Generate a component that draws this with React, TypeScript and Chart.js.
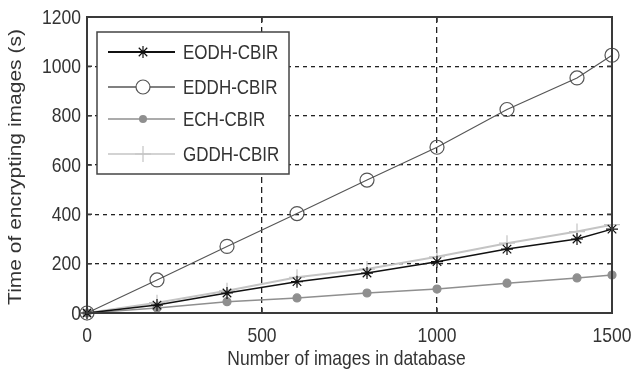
import React, { useEffect, useRef } from 'react';
import { Chart, registerables } from 'chart.js';

Chart.register(...registerables);

const xValues = [0, 200, 400, 600, 800, 1000, 1200, 1400, 1500];
const eodhValues = [0, 32, 81, 127, 162, 208, 259, 300, 340];
const eddhValues = [0, 134, 270, 403, 539, 672, 825, 953, 1045];
const echValues = [0, 20, 46, 61, 81, 97, 121, 142, 154];
const gddhValues = [0, 42, 90, 145, 178, 228, 283, 330, 358];
const seriesNames = ['EODH-CBIR', 'EDDH-CBIR', 'ECH-CBIR', 'GDDH-CBIR'];
const xTickValues = [0, 500, 1000, 1500];
const yTickValues = [0, 200, 400, 600, 800, 1000, 1200];
const xTitle = 'Number of images in database';
const yTitle = 'Time of encrypting images (s)';

const FONT = '"Liberation Sans", Arial, sans-serif';
const TEXT_COLOR = '#333333';
const STRETCH = 1.2;

const seriesStyles = [
  { color: '#111111', width: 1.5, pointStyle: 'star', radius: 6, fill: false, legendColor: '#111111', legendWidth: 2 },
  { color: '#555555', width: 1.1, pointStyle: 'circle', radius: 7, fill: false, legendColor: '#808080', legendWidth: 2 },
  { color: '#8f8f8f', width: 1.5, pointStyle: 'circle', radius: 4, fill: true, legendColor: '#8f8f8f', legendWidth: 1.5 },
  { color: '#c4c4c4', width: 2, pointStyle: 'cross', radius: 8, fill: false, legendColor: '#c4c4c4', legendWidth: 1.5 },
];

function drawText(ctx: CanvasRenderingContext2D, text: string, x: number, y: number, align: CanvasTextAlign, size: number) {
  ctx.save();
  ctx.translate(x, y);
  ctx.scale(1, STRETCH);
  ctx.font = `${size}px ${FONT}`;
  ctx.textAlign = align;
  ctx.textBaseline = 'middle';
  ctx.fillStyle = TEXT_COLOR;
  ctx.fillText(text, 0, 0);
  ctx.restore();
}

function drawMarker(ctx: CanvasRenderingContext2D, idx: number, x: number, y: number) {
  const s = seriesStyles[idx];
  ctx.save();
  ctx.strokeStyle = s.color;
  ctx.fillStyle = s.color;
  ctx.lineWidth = 1.2;
  ctx.beginPath();
  if (s.pointStyle === 'circle') {
    ctx.arc(x, y, s.radius, 0, Math.PI * 2);
    if (s.fill) ctx.fill();
    else { ctx.fillStyle = '#fff'; ctx.fill(); ctx.stroke(); }
  } else if (s.pointStyle === 'star') {
    const r = s.radius;
    ctx.moveTo(x, y - r); ctx.lineTo(x, y + r);
    ctx.moveTo(x - r, y); ctx.lineTo(x + r, y);
    const d = r * 0.7071;
    ctx.moveTo(x - d, y - d); ctx.lineTo(x + d, y + d);
    ctx.moveTo(x - d, y + d); ctx.lineTo(x + d, y - d);
    ctx.stroke();
  } else {
    const r = s.radius;
    ctx.moveTo(x, y - r); ctx.lineTo(x, y + r);
    ctx.moveTo(x - r, y); ctx.lineTo(x + r, y);
    ctx.stroke();
  }
  ctx.restore();
}

const decorPlugin = {
  id: 'matlabDecor',
  afterDraw(chart: any) {
    const { ctx, chartArea: a, scales } = chart;
    const xs = scales.x;
    const ys = scales.y;
    ctx.save();

    // legend box
    const lx = 97, ly = 32, lw = 192, lh = 142;
    ctx.fillStyle = '#ffffff';
    ctx.fillRect(lx, ly, lw, lh);
    ctx.strokeStyle = '#444444';
    ctx.lineWidth = 1.5;
    ctx.strokeRect(lx, ly, lw, lh);
    const rowY = [52, 87, 119, 154];
    seriesNames.forEach((name, i) => {
      const s = seriesStyles[i];
      ctx.strokeStyle = s.legendColor;
      ctx.lineWidth = s.legendWidth;
      ctx.beginPath();
      ctx.moveTo(108, rowY[i]);
      ctx.lineTo(175, rowY[i]);
      ctx.stroke();
      drawMarker(ctx, i, 143, rowY[i]);
      drawText(ctx, name, 183, rowY[i] + 1, 'left', 17);
    });

    // frame
    ctx.strokeStyle = '#3a3a3a';
    ctx.lineWidth = 2;
    ctx.strokeRect(a.left, a.top, a.right - a.left, a.bottom - a.top);

    // inward tick marks
    ctx.lineWidth = 1.5;
    ctx.beginPath();
    for (const v of xTickValues) {
      const px = xs.getPixelForValue(v);
      ctx.moveTo(px, a.bottom); ctx.lineTo(px, a.bottom - 5);
      ctx.moveTo(px, a.top); ctx.lineTo(px, a.top + 5);
    }
    for (const v of yTickValues) {
      const py = ys.getPixelForValue(v);
      ctx.moveTo(a.left, py); ctx.lineTo(a.left + 5, py);
      ctx.moveTo(a.right, py); ctx.lineTo(a.right - 5, py);
    }
    ctx.stroke();

    // tick labels
    for (const v of xTickValues) {
      drawText(ctx, String(v), xs.getPixelForValue(v), 336, 'center', 17.5);
    }
    for (const v of yTickValues) {
      drawText(ctx, String(v), 81, ys.getPixelForValue(v) + 1, 'right', 17.5);
    }

    // axis titles
    drawText(ctx, xTitle, (a.left + a.right) / 2 - 3, 359, 'center', 17.5);
    ctx.save();
    ctx.translate(16, (a.top + a.bottom) / 2 + 2);
    ctx.rotate(-Math.PI / 2);
    ctx.scale(STRETCH, 1);
    ctx.font = `17.5px ${FONT}`;
    ctx.textAlign = 'center';
    ctx.textBaseline = 'middle';
    ctx.fillStyle = TEXT_COLOR;
    ctx.fillText(yTitle, 0, 0);
    ctx.restore();

    ctx.restore();
  },
};

export default function App() {
  const canvasRef = useRef<HTMLCanvasElement | null>(null);

  useEffect(() => {
    const canvas = canvasRef.current;
    if (!canvas) return;
    const seriesValues = [eodhValues, eddhValues, echValues, gddhValues];
    const datasets = seriesNames.map((name, i) => {
      const s = seriesStyles[i];
      return {
        label: name,
        data: xValues.map((x, j) => ({ x, y: seriesValues[i][j] })),
        borderColor: s.color,
        borderWidth: s.width,
        backgroundColor: s.fill ? s.color : 'rgba(0,0,0,0)',
        pointStyle: s.pointStyle,
        pointRadius: s.radius,
        pointBorderColor: s.color,
        pointBorderWidth: 1.2,
        pointBackgroundColor: s.fill ? s.color : 'rgba(0,0,0,0)',
        tension: 0,
        fill: false,
        clip: false,
      };
    });

    const chart = new Chart(canvas, {
      type: 'line',
      data: { datasets } as any,
      options: {
        responsive: false,
        animation: false,
        events: [],
        layout: { padding: { left: 0, top: 17, right: 21, bottom: 0 } },
        plugins: { legend: { display: false }, tooltip: { enabled: false }, title: { display: false } },
        scales: {
          x: {
            type: 'linear',
            min: 0,
            max: 1500,
            ticks: { display: false, stepSize: 500 },
            grid: { color: '#222222', lineWidth: 1.3, drawTicks: false },
            border: { display: false, dash: [6, 4] },
            afterFit: (scale: any) => { scale.height = 66; },
          },
          y: {
            type: 'linear',
            min: 0,
            max: 1200,
            ticks: { display: false, stepSize: 200 },
            grid: { color: '#222222', lineWidth: 1.3, drawTicks: false },
            border: { display: false, dash: [4, 4] },
            afterFit: (scale: any) => { scale.width = 87; },
          },
        },
      } as any,
      plugins: [decorPlugin],
    });
    return () => chart.destroy();
  }, []);

  return (
    <div style={{ position: 'absolute', left: 0, top: 0, width: 633, height: 379, background: '#fff' }}>
      <canvas ref={canvasRef} width={633} height={379} style={{ display: 'block' }} />
    </div>
  );
}
